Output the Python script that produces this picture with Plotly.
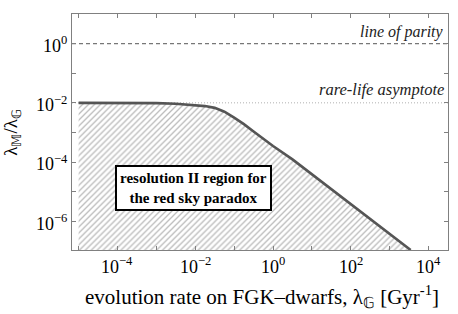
import math
import plotly.graph_objects as go

# curve
rate_x = [1e-5, 1e-4, 1e-3, 3.16e-3, 1e-2, 1.78e-2, 3.16e-2, 5.62e-2, 0.1, 0.178, 0.316, 0.562, 1, 3.16, 10, 100, 1000, 3470]
ratio_y = [0.0100, 0.0100, 0.00977, 0.00933, 0.00851, 0.00776, 0.00676, 0.00501, 0.00316, 0.00191, 0.00107,
           6.0e-4, 3.47e-4, 1.23e-4, 3.9e-5, 3.8e-6, 3.7e-7, 1.07e-7]

parity_y = 1.0
asymptote_y = 1e-2
x_span = [10**-5.17, 10**4.5]

x_tickvals = [1e-5, 1e-4, 1e-3, 1e-2, 1e-1, 1, 10, 100, 1e3, 1e4]
x_label_vals = [1e-4, 1e-2, 1, 100, 1e4]
x_label_text = ["10<sup>−4</sup>", "10<sup>−2</sup>", "10<sup>0</sup>", "10<sup>2</sup>", "10<sup>4</sup>"]
y_tickvals = [1e-7, 1e-6, 1e-5, 1e-4, 1e-3, 1e-2, 1e-1, 1, 10]
y_ticktext = ["", "10<sup>−6</sup>", "", "10<sup>−4</sup>", "", "10<sup>−2</sup>", "", "10<sup>0</sup>", ""]

FONT = "Liberation Serif"
X_RANGE = [-5.17, 4.5]

fig = go.Figure()

# hatched region
fig.add_trace(go.Scatter(
    x=rate_x + [rate_x[-1], rate_x[0]],
    y=ratio_y + [1e-9, 1e-9],
    mode="none", fill="toself",
    fillcolor="rgba(0,0,0,0)",
    fillpattern=dict(shape="/", fgcolor="#7a7a7a", bgcolor="rgba(255,255,255,0)", size=4.2, solidity=0.32),
    hoverinfo="skip", showlegend=False,
))

fig.add_trace(go.Scatter(x=x_span, y=[parity_y, parity_y], mode="lines",
                         line=dict(color="#777777", width=1.2, dash="4px,3px"), showlegend=False))
fig.add_trace(go.Scatter(x=x_span, y=[asymptote_y, asymptote_y], mode="lines",
                         line=dict(color="#b0b0b0", width=1, dash="1px,2px"), showlegend=False))

fig.add_trace(go.Scatter(x=rate_x, y=ratio_y, mode="lines",
                         line=dict(color="#555555", width=2.6),
                         showlegend=False))

axis_common = dict(type="log", showgrid=False, zeroline=False, showline=True, linecolor="#808080",
                   linewidth=1, mirror="ticks", ticks="inside", ticklen=4, tickcolor="#808080",
                   automargin=False, tickfont=dict(family=FONT, size=18, color="black"))

fig.update_xaxes(range=X_RANGE, tickvals=x_tickvals, ticktext=[""] * len(x_tickvals), **axis_common)
fig.update_yaxes(range=[-6.97, 1.0], tickvals=y_tickvals, ticktext=y_ticktext, ticklabelshift=2, **axis_common)

annotations = [
    dict(text="<i>line of parity</i>", x=0.995, y=0.924, xanchor="right", yanchor="middle",
         font=dict(family=FONT, size=16, color="#222")),
    dict(text="<i>rare-life asymptote</i>", x=0.995, y=0.682, xanchor="right", yanchor="middle",
         font=dict(family=FONT, size=16.5, color="#222")),
    dict(text="<b>resolution II region for<br>the red sky paradox</b>", x=0.322, y=0.263,
         xanchor="center", yanchor="middle", bgcolor="white", bordercolor="black", borderwidth=2,
         borderpad=3, font=dict(family=FONT, size=15, color="black")),
    dict(text="λ<sub>𝕄</sub>/λ<sub>𝔾</sub>", x=-0.16, y=0.5, textangle=-90, xanchor="center",
         yanchor="middle", font=dict(family=FONT, size=19, color="black")),
    dict(text="evolution rate on FGK–dwarfs, λ<sub>𝔾</sub> [Gyr<sup>-1</sup>]", x=0.505, y=-0.195,
         xanchor="center", yanchor="middle", font=dict(family=FONT, size=21, color="black")),
]
for v, t in zip(x_label_vals, x_label_text):
    xp = (math.log10(v) - X_RANGE[0]) / (X_RANGE[1] - X_RANGE[0])
    annotations.append(dict(text=t, x=xp, y=-0.064, xanchor="center", yanchor="middle",
                            font=dict(family=FONT, size=18, color="black")))
for a in annotations:
    a.update(xref="paper", yref="paper", showarrow=False)
fig.update_layout(annotations=annotations, width=458, height=314,
                  font=dict(family=FONT),
                  margin=dict(l=72, r=10, t=14, b=64),
                  plot_bgcolor="white", paper_bgcolor="white")

fig.write_html("out.html", config={"displayModeBar": False},
               post_script="document.body.style.margin='0px';document.body.style.overflow='hidden';")
